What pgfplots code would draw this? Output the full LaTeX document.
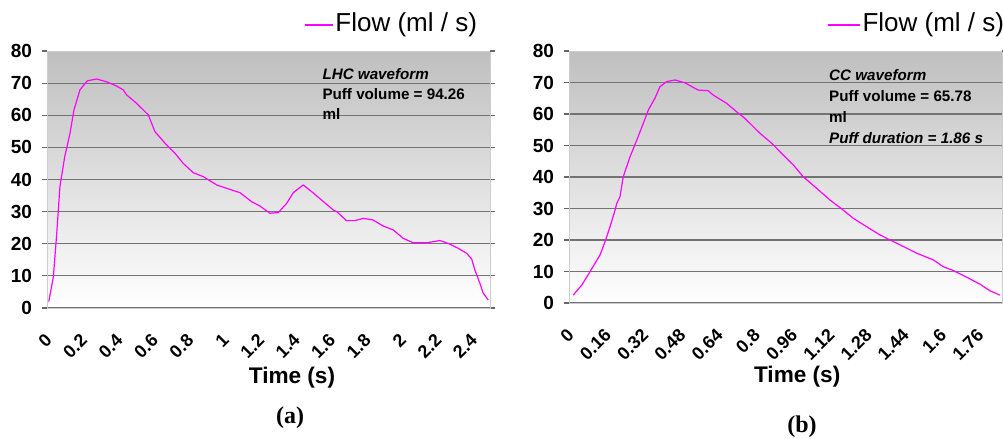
\documentclass[border=0pt]{standalone}
\usepackage{fontspec}
\setmainfont{Liberation Sans}
\newfontfamily\seriffont{Liberation Serif}
\usepackage{pgfplots}
\pgfplotsset{compat=1.18}
\definecolor{flowc}{RGB}{255,0,255}
\pgfplotsset{
  flowstyle/.style={
    scale only axis, enlargelimits=false, clip=false,
    ymin=0, ymax=80, ytick={0,10,...,70},
    extra y ticks={80}, extra y tick style={grid=none},
    axis background/.style={shade, top color=black!25, bottom color=white},
    ymajorgrids, grid style={black!55, line width=0.6pt},
    axis line style={black!20},
    tick align=outside, major tick length=2.5pt,
    ytick style={black!60, line width=0.6pt},
    xtick style={draw=none},
    /pgf/number format/assume math mode=true,
    yticklabel style={font=\bfseries\fontsize{9.5}{10}\selectfont, xshift=-1.5pt},
    xticklabel style={font=\bfseries\fontsize{9}{10}\selectfont, inner sep=0pt, xshift=-1.5pt, yshift=-9.5pt, rotate=45, anchor=north east},
    xlabel={Time (s)},
    xlabel style={font=\bfseries\fontsize{11.3}{12}\selectfont, anchor=center},
  }
}
\begin{document}
\begin{tikzpicture}
\useasboundingbox (0,0) rectangle (501.5pt,219.5pt);
% Panel (a)
\begin{axis}[flowstyle,
  at={(23.5pt,65.5pt)}, anchor=south west,
  width=221.5pt, height=128.5pt,
  xmin=0, xmax=2.5,
  xtick={0,0.2,0.4,0.6,0.8,1,1.2,1.4,1.6,1.8,2,2.2,2.4},
  xticklabels={0,0.2,0.4,0.6,0.8,1,1.2,1.4,1.6,1.8,2,2.2,2.4},
  xlabel style={at={(axis description cs:0.553,-0.272)}},
]
\addplot[draw=flowc, line width=0.6pt, line join=round] coordinates {
(0.01,2) (0.036,9.7) (0.055,23.3) (0.073,37.8) (0.10,47.1) (0.13,54.4)
(0.152,61.6) (0.186,67.9) (0.227,70.7) (0.28,71.3) (0.337,70.4) (0.393,69.1)
(0.43,67.9) (0.45,66.3) (0.506,63.7) (0.572,60.1) (0.609,54.9) (0.666,51.3)
(0.722,48.2) (0.769,45.0) (0.826,42.1) (0.882,40.9) (0.958,38.3) (1.033,36.9)
(1.089,35.9) (1.155,33.1) (1.20,31.8) (1.258,29.5) (1.305,29.7) (1.353,32.6)
(1.39,35.9) (1.446,38.3) (1.494,36.2) (1.55,33.6) (1.616,30.5) (1.635,30.0)
(1.69,27.2) (1.738,27.2) (1.785,27.9) (1.84,27.4) (1.898,25.5) (1.954,24.3)
(2.01,21.7) (2.067,20.3) (2.143,20.3) (2.217,21.0) (2.265,20.1) (2.32,18.6)
(2.369,17.0) (2.397,15.2) (2.415,11.8) (2.443,7.7) (2.462,4.6) (2.49,2.5)
};
% legend
\draw[draw=flowc, line width=0.6pt] (axis description cs:0.582,1.101) -- ++(14pt,0pt)
  node[anchor=west, inner sep=1pt, text=black, font=\fontsize{13}{14}\selectfont] {Flow (ml / s)};
\node[anchor=north west, align=left, inner sep=0pt,
  font=\bfseries\fontsize{7.6}{10}\selectfont] at (axis description cs:0.621,0.935)
  {{\itshape LHC waveform}\\Puff volume = 94.26\\ml};
\node[font=\seriffont\bfseries\fontsize{12}{14}\selectfont] at (axis description cs:0.549,-0.428) {(a)};
\end{axis}
% Panel (b)
\begin{axis}[flowstyle,
  at={(284.5pt,68pt)}, anchor=south west,
  width=216.5pt, height=126pt,
  xmin=0, xmax=1.86,
  xtick={0,0.16,0.32,0.48,0.64,0.8,0.96,1.12,1.28,1.44,1.6,1.76},
  xticklabels={0,0.16,0.32,0.48,0.64,0.8,0.96,1.12,1.28,1.44,1.6,1.76},
  xlabel style={at={(axis description cs:0.527,-0.294)}},
]
\addplot[draw=flowc, line width=0.6pt, line join=round] coordinates {
(0.018,2.5) (0.055,5.7) (0.09,9.9) (0.133,15.2) (0.155,19.5) (0.176,24.2)
(0.198,29.5) (0.205,31.6) (0.219,33.7) (0.233,40.1) (0.262,46.4) (0.291,51.7)
(0.319,57.0) (0.341,61.3) (0.369,65.0) (0.391,68.7) (0.42,70.3) (0.455,70.8)
(0.498,69.9) (0.555,67.6) (0.598,67.4) (0.62,66.0) (0.677,63.4) (0.72,60.7)
(0.756,58.6) (0.82,53.9) (0.871,50.7) (0.92,47.0) (0.964,43.8) (1.006,40.1)
(1.064,36.4) (1.121,32.7) (1.178,29.5) (1.221,26.9) (1.279,24.2) (1.336,21.6)
(1.393,19.5) (1.451,17.4) (1.494,15.8) (1.565,13.7) (1.608,11.5) (1.651,10.3)
(1.708,8.2) (1.765,6.0) (1.808,3.9) (1.851,2.5)
};
% legend
\draw[draw=flowc, line width=0.6pt] (axis description cs:0.598,1.103) -- ++(16pt,0pt)
  node[anchor=west, inner sep=1pt, text=black, font=\fontsize{13}{14}\selectfont] {Flow (ml / s)};
\node[anchor=north west, align=left, inner sep=0pt,
  font=\bfseries\fontsize{7.6}{10.5}\selectfont] at (axis description cs:0.60,0.93)
  {{\itshape CC waveform}\\Puff volume = 65.78\\ml\\{\itshape Puff duration = 1.86 s}};
\node[font=\seriffont\bfseries\fontsize{12}{14}\selectfont] at (axis description cs:0.538,-0.492) {(b)};
\end{axis}
\end{tikzpicture}
\end{document}
